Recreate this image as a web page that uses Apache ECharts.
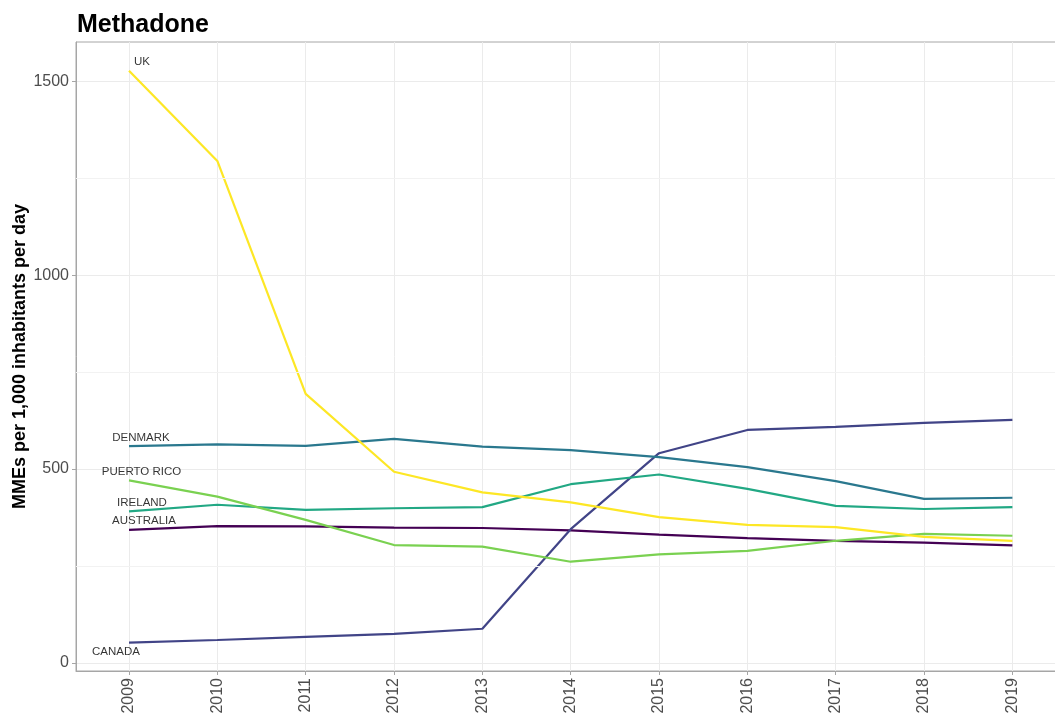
<!DOCTYPE html>
<html>
<head>
<meta charset="utf-8">
<title>Methadone</title>
<script src="https://cdn.jsdelivr.net/npm/echarts@6/dist/echarts.min.js"></script>
<style>
  html, body { margin: 0; padding: 0; background: #ffffff; }
  #chart { width: 1055px; height: 718px; }
</style>
</head>
<body>
<div id="chart"></div>
<script>
// Methadone consumption, MMEs per 1,000 inhabitants per day
const years = [2009, 2010, 2011, 2012, 2013, 2014, 2015, 2016, 2017, 2018, 2019];
const countries = ['AUSTRALIA', 'CANADA', 'DENMARK', 'IRELAND', 'PUERTO RICO', 'UK'];
const australia  = [343, 353, 352, 349, 348, 342, 331, 322, 315, 310, 303];
const canada     = [52, 59, 67, 75, 88, 345, 541, 601, 609, 619, 627];
const denmark    = [559, 564, 560, 578, 558, 549, 531, 505, 469, 423, 426];
const ireland    = [391, 408, 395, 399, 402, 461, 486, 449, 405, 397, 402];
const puertoRico = [471, 429, 369, 304, 300, 261, 280, 289, 315, 333, 328];
const uk         = [1528, 1295, 694, 493, 440, 414, 376, 356, 350, 325, 315];
const yTicks = [0, 500, 1000, 1500];
const yMinorTicks = [250, 750, 1250];

const values = [australia, canada, denmark, ireland, puertoRico, uk];
const palette = ['#440154', '#414487', '#2A788E', '#22A884', '#7AD151', '#FDE725'];
// where each country's name sits relative to its first point
const nameOffsets = {
  'AUSTRALIA': [15, -9],
  'CANADA': [-13, 9],
  'DENMARK': [12, -8],
  'IRELAND': [13, -8],
  'PUERTO RICO': [12.5, -8],
  'UK': [13, -8.5]
};

const FONT = '"Liberation Sans", Arial, Helvetica, sans-serif';

const lineSeries = countries.map((name, i) => ({
  name: name,
  type: 'line',
  data: years.map((y, k) => [y, values[i][k]]),
  showSymbol: false,
  symbol: 'none',
  lineStyle: { color: palette[i], width: 2.2 },
  itemStyle: { color: palette[i] },
  z: 3,
  silent: true
}));

const nameSeries = {
  type: 'scatter',
  symbol: 'circle',
  symbolSize: 1,
  itemStyle: { color: 'rgba(0,0,0,0)' },
  z: 4,
  silent: true,
  data: countries.map((name, i) => ({
    value: [years[0], values[i][0]],
    label: {
      show: true,
      position: 'inside',
      offset: nameOffsets[name],
      formatter: name,
      fontFamily: FONT,
      fontSize: 11.5,
      color: '#000000',
      textBorderWidth: 0
    }
  }))
};

// light minor grid lines between the labelled y ticks
const minorGrid = {
  type: 'line',
  data: [],
  z: 1,
  silent: true,
  markLine: {
    silent: true,
    symbol: ['none', 'none'],
    label: { show: false },
    lineStyle: { color: '#f2f2f2', width: 1, type: 'solid' },
    data: yMinorTicks.map(v => ({ yAxis: v }))
  }
};

const chart = echarts.init(document.getElementById('chart'), null, { renderer: 'canvas' });
chart.setOption({
  animation: false,
  backgroundColor: '#ffffff',
  title: {
    text: 'Methadone',
    left: 72,
    top: 8,
    textStyle: { fontFamily: FONT, fontSize: 25, fontWeight: 'bold', color: '#000000' }
  },
  grid: {
    left: 76,
    top: 42,
    bottom: 47,
    width: 989.4,
    containLabel: false,
    outerBoundsMode: 'none',
    show: true,
    borderColor: '#a6a6a6',
    borderWidth: 1,
    backgroundColor: 'transparent'
  },
  xAxis: {
    type: 'value',
    min: 2008.4,
    max: 2019.6,
    axisLine: { show: true, onZero: false, lineStyle: { color: '#a6a6a6', width: 1 } },
    axisTick: { show: true, length: 4, customValues: years, lineStyle: { color: '#a6a6a6' } },
    axisLabel: {
      show: true,
      customValues: years,
      rotate: 90,
      margin: 7,
      fontFamily: FONT,
      fontSize: 16,
      color: '#4d4d4d',
      formatter: v => String(v)
    },
    splitLine: { show: true, lineStyle: { color: '#ebebeb', width: 1 } }
  },
  yAxis: {
    type: 'value',
    min: -21,
    max: 1602,
    name: 'MMEs per 1,000 inhabitants per day',
    nameLocation: 'middle',
    nameGap: 47,
    nameMoveOverlap: false,
    nameTextStyle: { fontFamily: FONT, fontSize: 18, fontWeight: 'bold', color: '#000000' },
    axisLine: { show: true, onZero: false, lineStyle: { color: '#a6a6a6', width: 1 } },
    axisTick: { show: true, length: 4, customValues: yTicks, lineStyle: { color: '#a6a6a6' } },
    axisLabel: {
      show: true,
      customValues: yTicks,
      margin: 7,
      fontFamily: FONT,
      fontSize: 16,
      color: '#4d4d4d',
      formatter: v => String(v)
    },
    splitLine: { show: true, lineStyle: { color: '#ebebeb', width: 1 } }
  },
  series: [minorGrid].concat(lineSeries, [nameSeries])
});
</script>
</body>
</html>
